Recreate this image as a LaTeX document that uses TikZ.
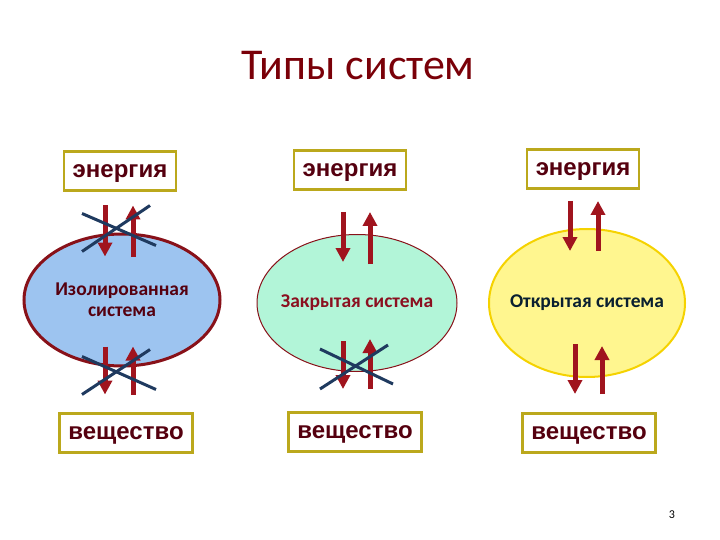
\documentclass[tikz,border=0pt]{standalone}
\usepackage{fontspec}
\setmainfont{Carlito}
\newfontfamily\arialfont{Liberation Sans}
\usetikzlibrary{arrows.meta,shapes.geometric}

\definecolor{maroon}{HTML}{55000F}
\definecolor{titlered}{HTML}{7A0008}
\definecolor{arrowred}{HTML}{A0141E}
\definecolor{crossblue}{HTML}{1F3A5F}
\definecolor{boxgold}{HTML}{BBA81C}

\tikzset{
  labelbox/.style={draw=boxgold,line width=2.5pt,fill=white,minimum width=112pt,minimum height=39pt,text depth=0pt,
    font=\arialfont\bfseries\fontsize{24}{26}\selectfont,text=maroon},
  subbox/.style={labelbox,minimum width=133pt},
  sysshape/.style={ellipse,inner sep=0pt},
  systext/.style={align=center,font=\bfseries\fontsize{19.5}{21}\selectfont},
  flow/.style={-{Triangle[width=14pt,length=14pt]},line width=5pt,draw=arrowred},
  crossline/.style={line width=3pt,draw=crossblue}
}

\begin{document}
\begin{tikzpicture}[x=1pt,y=-1pt]
\useasboundingbox (0,0) rectangle (720,540);
\node[anchor=base,font=\fontsize{44}{50}\selectfont,text=titlered] (title) at (358,80){Типы систем};
% energy and matter boxes
\node[labelbox] (en1) at (120,171){энергия}; \node[labelbox] (en2) at (350,170){энергия}; \node[labelbox] (en3) at (583,169){энергия};
\node[subbox] (sub1) at (126,433){вещество}; \node[subbox] (sub2) at (355,432){вещество}; \node[subbox] (sub3) at (589,433){вещество};
% the three systems
\node[sysshape,draw=arrowred!85!black,line width=3pt,fill={rgb,255:red,157;green,196;blue,240},minimum width=196pt,minimum height=132pt] (sys1) at (122,300){};
\node[sysshape,draw=arrowred!85!black,line width=1pt,fill={rgb,255:red,178;green,245;blue,216},minimum width=200pt,minimum height=137pt] (sys2) at (357,303){};
\node[sysshape,draw={rgb,255:red,245;green,210;blue,0},line width=2pt,fill={rgb,255:red,255;green,246;blue,143},minimum width=196pt,minimum height=148pt] (sys3) at (587,303){};
\node[systext,text=maroon] (name1) at (sys1.center){Изолированная\\система};
\node[systext,text={rgb,255:red,139;green,16;blue,32}] (name2) at (sys2.center){Закрытая система};
\node[systext,text={rgb,255:red,10;green,32;blue,48}] (name3) at (sys3.center){Открытая система};
% isolated
\draw[flow] ([shift={(-17,-27)}]sys1.north) -- ++(0,51); \draw[flow] ([shift={(11,24)}]sys1.north) -- ++(0,-51);
\draw[flow] ([shift={(-17,-21)}]sys1.south) -- ++(0,48); \draw[flow] ([shift={(11,27)}]sys1.south) -- ++(0,-48);
\draw[crossline] ([shift={(-40,-19)}]sys1.north) -- ([shift={(34,13)}]sys1.north); \draw[crossline] ([shift={(-40,19)}]sys1.north) -- ([shift={(28,-27)}]sys1.north);
\draw[crossline] ([shift={(-40,-11)}]sys1.south) -- ([shift={(34,22)}]sys1.south); \draw[crossline] ([shift={(-40,27)}]sys1.south) -- ([shift={(28,-18)}]sys1.south);
% closed
\draw[flow] ([shift={(-14,-22)}]sys2.north) -- ++(0,50); \draw[flow] ([shift={(13,30)}]sys2.north) -- ++(0,-52);
\draw[flow] ([shift={(-14,-31)}]sys2.south) -- ++(0,48); \draw[flow] ([shift={(13,17)}]sys2.south) -- ++(0,-50);
\draw[crossline] ([shift={(-37,17)}]sys2.south) -- ([shift={(31,-27)}]sys2.south); \draw[crossline] ([shift={(-37,-23)}]sys2.south) -- ([shift={(36,12)}]sys2.south);
% open
\draw[flow] ([shift={(-17,-27)}]sys3.north) -- ++(0,50); \draw[flow] ([shift={(11,23)}]sys3.north) -- ++(0,-50);
\draw[flow] ([shift={(-12,-34)}]sys3.south) -- ++(0,50); \draw[flow] ([shift={(15,16)}]sys3.south) -- ++(0,-48);
\node[font=\fontsize{12}{14}\selectfont] (pagenum) at (672,515){3};
\end{tikzpicture}
\end{document}
